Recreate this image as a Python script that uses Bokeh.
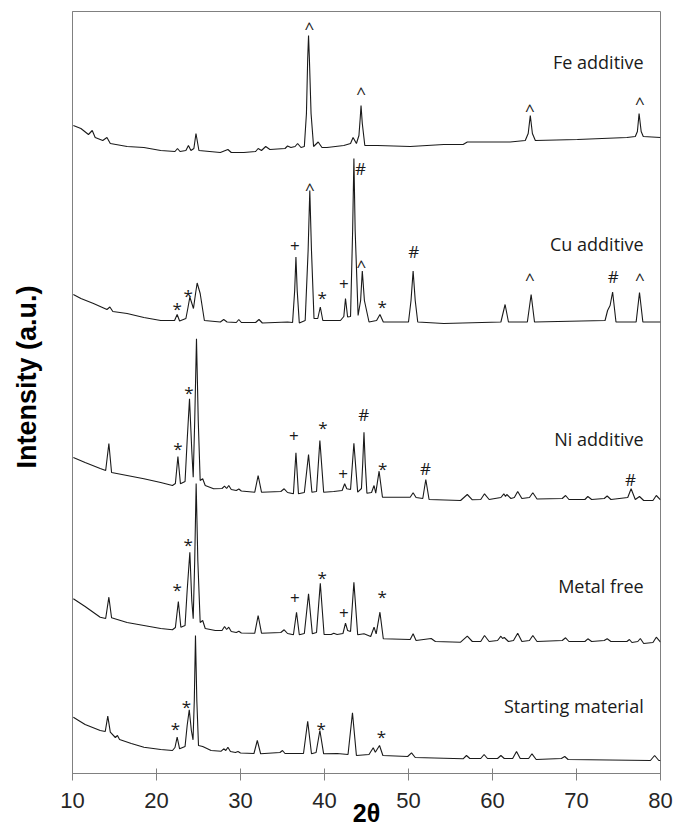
import math
from bokeh.plotting import figure
from bokeh.models import Range1d, FixedTicker, Title, ColumnDataSource
from bokeh.core.properties import value
from bokeh.embed import file_html
from bokeh.resources import INLINE

# ---- data: (2theta, intensity a.u.) ----
FE = [(10.1,648),(11.0,645),(11.9,639),(12.35,643),(12.7,636),(13.6,633),(14.1,636),(14.5,630),(16.5,627),(18.5,626),
      (20.5,623),(22.2,622),(22.5,625),(22.8,622),(23.5,623),(23.8,628),(24.1,623),(24.45,625),(24.7,640),(25.05,623),
      (27.6,621),(28.5,624),(28.9,621),(30.4,621),(31.8,622),(32.1,625),(32.5,623),(33.0,627),(33.5,624),(35.3,625),
      (35.6,627.5),(36.0,626),(36.5,627),(36.8,630),(37.2,626),(37.6,627),(37.85,660),(38.0,715),(38.1,738),(38.2,715),
      (38.4,660),(38.7,627),(39.25,631.5),(39.7,626),(40.3,626),(42.3,628),(43.1,630),(43.4,636),(43.8,630),(44.1,638),
      (44.25,655),(44.35,668),(44.5,650),(44.8,628),(46.3,628),(50.2,627),(54.2,629),(56.5,629),(57.0,631.5),(62.1,631.5),
      (63.9,633),(64.25,640),(64.5,658),(64.75,640),(65.1,633),(70.1,634),(76.0,636),(77.0,637),(77.25,642),(77.45,660),
      (77.7,642),(77.95,637),(80.0,636)]

CU = [(10.1,479),(11.0,475),(12.5,470),(14.1,464),(14.45,466.5),(14.8,462),(16.5,460),(18.5,456),(20.5,453),(22.15,453),
      (22.46,459),(22.75,452.5),(23.5,455),(23.75,466),(23.97,476.5),(24.4,465),(24.65,480),(24.84,490.5),(25.2,480),(25.7,453),
      (27.6,451.5),(28.0,454),(28.4,451.5),(29.5,451),(29.8,454),(30.1,451),(31.8,451),(32.2,454),(32.6,450.5),(35.6,451.5),
      (36.2,451),(36.45,483),(36.6,516.5),(36.75,483),(37.0,450.5),(37.7,453),(38.05,523),(38.25,583),(38.45,523),(38.75,455),
      (39.2,455),(39.5,466.5),(39.8,453),(41.9,453),(42.3,457),(42.5,475),(42.75,456.5),(43.1,457),(43.35,543),(43.5,615),
      (43.65,543),(44.0,458),(44.3,473),(44.5,502.5),(44.75,473),(45.3,451.5),(46.2,453),(46.6,459),(47.0,451.5),(50.0,451.5),
      (50.3,473),(50.55,502.5),(50.8,473),(51.1,451.5),(54.2,450),(61.0,451.5),(61.5,469),(61.9,451.5),(64.15,451.5),(64.6,479),
      (65.0,451.5),(73.4,453),(73.7,463),(74.0,468),(74.3,481.5),(74.7,451.5),(77.1,451.5),(77.5,481),(77.9,451.5),(80.0,451.5)]

NI = [(10.1,316),(11.5,311),(13.3,305),(13.95,303),(14.33,330),(14.65,301),(16.5,298),(18.5,294.7),(20.5,291),(21.9,288),
      (22.25,290),(22.55,317),(22.85,289.7),(23.4,292),(23.65,333),(23.93,374.7),(24.2,323),(24.37,296.3),(24.55,353),(24.76,434.7),
      (24.97,353),(25.2,293),(25.5,294.7),(25.8,288),(26.8,284.7),(27.8,285),(28.1,287.3),(28.35,285),(28.6,288),(28.9,284),
      (29.5,283),(29.8,284.5),(30.1,282.5),(31.7,281.3),(32.1,298),(32.5,281.3),(34.8,282),(35.2,284.7),(35.6,281),(36.3,279.7),
      (36.6,320.7),(36.9,279.7),(37.6,281),(38.1,319),(38.5,281.3),(39.05,282),(39.45,333),(39.9,281.3),(41.1,282),(42.1,283),
      (42.4,289.7),(42.65,284.7),(43.1,284),(43.5,330.3),(43.95,281.3),(44.4,285),(44.55,310),(44.7,341.3),(44.85,310),(45.05,280.3),
      (45.6,281),(45.9,288),(46.1,280.3),(46.5,302.3),(46.9,276.3),(50.2,276.3),(50.55,280.7),(50.9,276),(51.7,275),(52.06,294),
      (52.45,274),(56.2,273),(57.0,279),(57.6,273.7),(58.6,274),(59.05,279.7),(59.6,274),(61.0,276),(61.35,279.7),(61.55,277),
      (61.7,279),(62.2,275),(62.6,276),(63.0,282),(63.5,275),(64.4,276),(64.8,280.7),(65.3,274.5),(68.3,275),(68.7,278),
      (69.1,274),(71.0,274),(71.35,277),(71.8,274),(73.3,275),(73.65,277.5),(74.1,274),(76.1,276),(76.5,284.7),(77.0,274),
      (77.5,277),(78.0,273),(79.1,273),(79.5,278),(80.0,273.7)]

MF = [(10.1,174.7),(11.5,167),(13.3,156.3),(13.95,155),(14.33,176.3),(14.65,155.7),(16.5,151),(18.5,148),(20.5,145),(21.9,143.7),
      (22.25,146),(22.6,172),(22.9,146.3),(23.4,148),(23.65,183),(23.97,221.3),(24.2,173),(24.37,154.7),(24.55,213),(24.72,290),
      (24.92,213),(25.2,151),(25.5,153),(25.8,145),(27.0,143),(27.8,143),(28.1,147),(28.35,144),(28.6,146.3),(28.9,142),
      (29.5,141),(29.8,142.3),(30.1,140.5),(31.7,140.3),(32.1,158),(32.5,140.3),(34.8,141),(35.2,143.7),(35.6,140),(36.3,138.7),
      (36.67,161.3),(37.0,138.7),(37.6,140),(38.1,179.7),(38.55,139.7),(39.05,141),(39.5,190.3),(39.95,139),(40.8,139),(41.1,140.3),
      (41.5,139),(42.2,140),(42.5,150.3),(42.75,143),(43.1,142),(43.5,191.3),(43.95,138.7),(44.7,139.7),(45.5,137),(45.9,146.3),
      (46.15,139.7),(46.6,161.3),(47.0,134.7),(50.2,134),(50.55,139.7),(50.9,133),(52.7,135),(53.2,132),(56.2,131.3),(57.0,137.3),
      (57.6,132),(58.6,132),(59.05,138),(59.6,132),(60.6,133),(61.0,137.3),(61.2,135),(61.4,136),(61.9,132),(62.5,133),
      (63.0,140.3),(63.5,132),(64.4,133),(64.8,138),(65.3,132),(68.3,133),(68.7,135.7),(69.1,132),(71.0,132),(71.35,134.7),
      (71.8,132),(73.3,133),(73.65,134.7),(74.1,132),(76.0,132),(76.3,134),(76.6,131),(77.3,132),(77.6,135),(78.0,130),
      (79.1,131),(79.5,136.3),(80.0,131.3)]

SM = [(10.1,56.3),(11.5,49),(13.3,43),(13.9,42),(14.2,57.3),(14.5,41.3),(15.1,36),(15.35,38),(15.6,34),(17.0,30),
      (18.5,26.3),(20.5,24),(21.9,23),(22.2,26),(22.46,36.3),(22.75,24.7),(23.4,27),(23.65,48),(23.9,63.7),(24.15,43),
      (24.35,33.7),(24.5,73),(24.64,138),(24.8,73),(25.0,28),(25.5,27),(26.5,23),(27.7,22.3),(28.0,24.7),(28.25,23),
      (28.5,26.3),(28.8,22),(29.4,21),(29.7,22),(30.0,20.5),(31.6,20),(32.0,33),(32.4,19.7),(34.7,21),(35.0,23),
      (35.3,20),(37.5,20),(38.0,52.3),(38.45,19.7),(39.0,21),(39.45,43),(39.9,19.7),(41.5,20),(42.8,19),(43.33,60.7),
      (43.8,18),(45.3,19),(45.8,25.7),(46.05,21.3),(46.55,28),(46.95,18),(49.9,17),(50.36,20.7),(50.8,16),(56.5,14.7),
      (56.9,18),(57.3,15),(58.6,15),(59.0,19),(59.4,15),(60.6,15),(61.0,18),(61.4,15),(62.4,15),(62.86,22),
      (63.3,15),(64.3,15),(64.7,19.7),(65.2,14),(68.2,15),(68.6,17),(69.0,14),(78.8,13),(79.3,18),(79.8,13),(80.0,13)]

SERIES = [FE, CU, NI, MF, SM]
SAMPLE_NAMES = ["Fe additive", "Cu additive", "Ni additive", "Metal free", "Starting material"]
SAMPLE_LABEL_Y = [712, 529.7, 334.7, 188, 67.3]

# phase markers (2theta, intensity)
STAR = [(22.46,469),(23.77,482),(39.73,479.7),(46.87,471),
        (22.54,329),(23.85,384.7),(39.8,350.3),(46.94,309),
        (22.46,188),(23.77,233),(39.73,199.7),(46.87,181.3),
        (22.26,48.7),(23.57,71.3),(39.6,49),(46.79,41.3)]
PLUS = [(36.46,529),(42.3,490.3),(36.35,339),(42.23,300.7),(36.46,176.3),(42.3,162)]
HASH = [(44.29,606.3),(50.63,523),(74.37,498),(44.68,360.3),(52.02,306.3),(76.43,295.3)]
CARET = [(38.2,751.3),(44.37,685.7),(64.44,669),(77.54,676.3),
         (38.25,590),(44.4,513),(64.44,500.3),(77.54,500.3)]

X_TICKS = [10, 20, 30, 40, 50, 60, 70, 80]
X_TITLE = "2θ"
Y_TITLE = "Intensity (a.u.)"

# ---- figure ----
p = figure(width=675, height=829, x_range=Range1d(10, 80), y_range=Range1d(0, 762),
           output_backend="svg", toolbar_location=None,
           min_border_left=72, min_border_right=15, min_border_top=11, min_border_bottom=56)
p.xgrid.visible = False
p.ygrid.visible = False
p.outline_line_color = "#808080"
p.outline_line_width = 1
p.background_fill_color = "white"
p.border_fill_color = "white"

ax = p.xaxis[0]
ax.ticker = FixedTicker(ticks=X_TICKS)
ax.major_tick_out = 7
ax.major_tick_in = 5
ax.minor_tick_out = 0
ax.minor_tick_in = 0
ax.axis_line_color = "#808080"
ax.major_tick_line_color = "#808080"
ax.major_label_text_font = "Liberation Sans"
ax.major_label_text_font_size = "22px"
ax.major_label_text_color = "#262626"
ax.major_label_standoff = 12
ax.axis_label = X_TITLE
ax.axis_label_text_font = "Liberation Sans"
ax.axis_label_text_font_style = "bold"
ax.axis_label_text_font_size = "25px"
ax.axis_label_text_color = "#000000"
ax.axis_label_standoff = -12

ay = p.yaxis[0]
ay.ticker = FixedTicker(ticks=[])
ay.major_tick_line_color = None
ay.minor_tick_line_color = None
ay.major_label_text_font_size = "0px"
ay.axis_line_color = "#808080"

# spacer between the axis line and the rotated axis title
p.add_layout(Title(text="\u00a0", standoff=0, text_font_size="24px"), "left")
p.add_layout(Title(text=Y_TITLE, align="left", offset=305, standoff=4, vertical_align="bottom",
                   text_font="Liberation Sans", text_font_style="bold", text_font_size="27px",
                   text_color="#000000"), "left")

for s in SERIES:
    xs = [a for a, b in s]
    ys = [b for a, b in s]
    p.line(xs, ys, line_color="#1a1a1a", line_width=1.1)

def marks(data, sym, yoff):
    src = ColumnDataSource(dict(x=[a for a, b in data], y=[b for a, b in data], t=[sym] * len(data)))
    p.text(x="x", y="y", text="t", source=src, text_align="center", text_baseline="middle",
           text_font=value("Open Sans"), text_font_size="17px", text_color="#1a1a1a", y_offset=yoff)

marks(STAR, "*", 4)
marks(PLUS, "+", 1)
marks(HASH, "#", 1)
marks(CARET, "^", 5)

lab = ColumnDataSource(dict(x=[78.0] * len(SAMPLE_NAMES), y=SAMPLE_LABEL_Y, t=SAMPLE_NAMES))
p.text(x="x", y="y", text="t", source=lab, text_align="right", text_baseline="middle",
       text_font=value("Open Sans"), text_font_size="18px", text_color="#1a1a1a")

open("out.html", "w").write(file_html(p, INLINE))
